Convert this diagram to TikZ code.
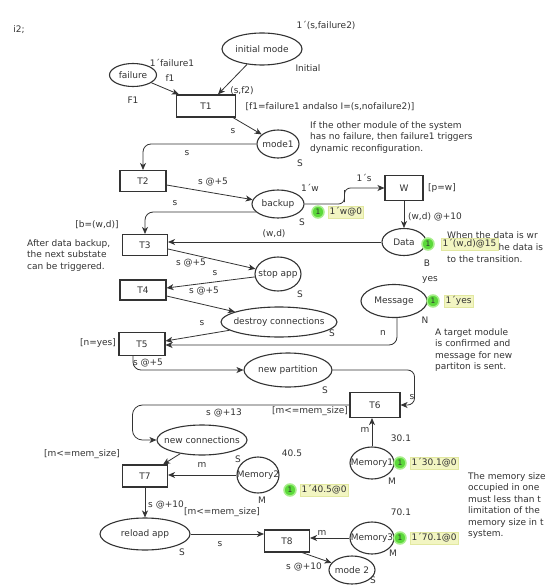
\documentclass[tikz,border=0pt]{standalone}
\usepackage{fontspec}
\setmainfont{DejaVu Sans}
\usetikzlibrary{shapes.geometric,arrows.meta,calc}
\definecolor{ink}{HTML}{333333}
\definecolor{tokgreen}{HTML}{5BD93A}
\definecolor{tokhalo}{HTML}{A8EE8C}
\definecolor{markfill}{HTML}{F2F5C2}
\definecolor{markline}{HTML}{E2E8A0}

\begin{document}
\begin{tikzpicture}[x=1pt,y=-1pt,
  every node/.style={font=\fontsize{9}{11}\selectfont, text=ink},
  place/.style={ellipse, draw=ink, line width=1.1pt, inner sep=0pt},
  trans/.style={rectangle, draw=ink, line width=1.1pt, inner sep=0pt},
  arc/.style={draw=ink, line width=0.8pt, -{Stealth[length=7pt,width=6pt,inset=2pt]}},
  lbl/.style={inner sep=0.5pt},
  note/.style={inner sep=0pt, anchor=north west, align=left, font=\fontsize{9}{11.5}\selectfont},
  token/.style={circle, fill=tokgreen, draw=tokhalo, line width=1.5pt, inner sep=0pt,
                minimum size=12pt, font=\fontsize{7.5}{8}\selectfont},
  marking/.style={fill=markfill, draw=markline, line width=0.4pt, inner sep=1.5pt, anchor=west},
]
\fill[white] (0,0) rectangle (549,586);
\useasboundingbox (0,0) rectangle (549,586);

% ---------- places ----------
\node[place, minimum width=80pt, minimum height=32pt, label=center:{initial mode}] (init) at (262,49) {};
\node[place, minimum width=47pt, minimum height=23pt, label=center:failure] (fail) at (133,75) {};
\node[place, minimum width=42pt, minimum height=28pt, label=center:mode1] (mode1) at (278,144) {};
\node[place, minimum width=52pt, minimum height=28pt, label=center:backup] (backup) at (278,204) {};
\node[place, minimum width=44pt, minimum height=27pt, label=center:Data] (data) at (404,242) {};
\node[place, minimum width=46pt, minimum height=34pt, label=center:{stop app}] (stop) at (278,274) {};
\node[place, minimum width=116pt, minimum height=30pt, label=center:{destroy connections}] (destroy) at (279,322) {};
\node[place, minimum width=66pt, minimum height=33pt, label=center:Message] (msg) at (394,301) {};
\node[place, minimum width=88pt, minimum height=34pt, label=center:{new partition}] (npart) at (288,370) {};
\node[place, minimum width=90pt, minimum height=30pt, label=center:{new connections}] (nconn) at (202,440) {};
\node[place, minimum width=44pt, minimum height=32pt, label=center:Memory1] (mem1) at (372,463) {};
\node[place, minimum width=42pt, minimum height=36pt, label=center:Memory2] (mem2) at (258,475) {};
\node[place, minimum width=90pt, minimum height=32pt, label=center:{reload app}] (reload) at (145,534) {};
\node[place, minimum width=44pt, minimum height=32pt, label=center:Memory3] (mem3) at (372,538) {};
\node[place, minimum width=46pt, minimum height=28pt, label=center:{mode 2}] (mode2) at (352,570) {};

% ---------- transitions ----------
\node[trans, minimum width=59pt, minimum height=22pt, line width=1.3pt] (T1) at (206,106) {T1};
\node[trans, minimum width=46pt, minimum height=21pt] (T2) at (143,181) {T2};
\node[trans, minimum width=45pt, minimum height=21pt] (T3) at (145,245) {T3};
\node[trans, minimum width=46pt, minimum height=20pt] (T4) at (143,290) {T4};
\node[trans, minimum width=46pt, minimum height=23pt] (T5) at (142,344) {T5};
\node[trans, minimum width=50pt, minimum height=25pt] (T6) at (375,405) {T6};
\node[trans, minimum width=45pt, minimum height=22pt] (T7) at (145,476) {T7};
\node[trans, minimum width=45pt, minimum height=22pt] (T8) at (287,541) {T8};
\node[trans, minimum width=38pt, minimum height=25pt] (W) at (404,188) {W};

% ---------- arcs ----------
\draw[arc] (fail) -- ([xshift=3pt]T1.north west);
\draw[arc] (init) -- ([xshift=12pt]T1.north);
\draw[arc] ([xshift=-3pt]T1.south east) -- (mode1);
\draw[arc, rounded corners=8pt] (mode1.west) -| (T2.north);
\draw[arc] ([yshift=-4pt]T2.east) -- (backup);
\draw[arc, rounded corners=8pt] (backup.200) -| (T3.north);
\draw[arc, rounded corners=6pt] (backup.east) -| ($(backup.east)!0.5!(W.west)$) |- (W.west);
\draw[arc] (W.south) -- (data.north);
\draw[arc] (data.west) -- (data.west -| T3.east);
\draw[arc] ([yshift=-4pt]T3.east) -- (stop);
\draw[arc] (stop) -- ([yshift=2pt]T4.east);
\draw[arc] ([yshift=-6pt]T4.east) -- (destroy);
\draw[arc] (destroy) -- ([yshift=3pt]T5.east);
\draw[arc, rounded corners=8pt] ([xshift=3pt]msg.south) |- ([yshift=-1pt]T5.east);
\draw[arc, rounded corners=8pt] ([xshift=-9pt]T5.south) |- (npart.west);
\draw[arc, rounded corners=7pt] (npart.east) -| ([xshift=14pt]T6.east) -- (T6.east);
\draw[arc, rounded corners=10pt] (T6.west) -- ++(-217,0) |- (nconn.west);
\draw[arc] (mem1) -- (mem1 |- T6.south);
\draw[arc] (nconn) -- ([xshift=-5pt]T7.north east);
\draw[arc] (mem2.west) -- (mem2.west -| T7.east);
\draw[arc] (T7.south) -- (reload.north);
\draw[arc] (reload.east) -- (reload.east -| T8.west);
\draw[arc] (mem3.west) -- (mem3.west -| T8.east);
\draw[arc] ([xshift=-8pt]T8.south east) -- (mode2);

% ---------- inscriptions ----------
\node[lbl] (hdr) at (19,30) {i2;};
\node[lbl] (l1) at (172,63) {1´failure1};
\node[lbl] (l2) at (170,78) {f1};
\node[lbl] (l3) at (133,100) {F1};
\node[lbl] (l4) at (326,25) {1´(s,failure2)};
\node[lbl] (l5) at (308,68) {Initial};
\node[lbl] (l6) at (242,91) {(s,f2)};
\node[lbl, anchor=west] (g1) at (245,107) {[f1=failure1 andalso I=(s,nofailure2)]};
\node[lbl] (l7) at (233,131) {s};
\node[lbl] (l8) at (300,163) {S};
\node[lbl] (l9) at (187,153) {s};
\node[lbl] (l10) at (213,182) {s @+5};
\node[lbl] (l11) at (175,203) {s};
\node[lbl] (l12) at (302,222) {S};
\node[lbl] (l13) at (310,188) {1´w};
\node[lbl] (l14) at (364,178) {1´s};
\node[lbl] (g2) at (442,188) {[p=w]};
\node[lbl] (l15) at (435,217) {(w,d) @+10};
\node[lbl] (l16) at (427,263) {B};
\node[lbl] (l17) at (274,234) {(w,d)};
\node[lbl] (g3) at (97,225) {[b=(w,d)]};
\node[lbl] (l18) at (191,263) {s @+5};
\node[lbl] (l19) at (215,273) {s};
\node[lbl] (l20) at (300,294) {S};
\node[lbl] (l21) at (204,291) {s @+5};
\node[lbl] (l22) at (202,323) {s};
\node[lbl] (l23) at (332,333) {S};
\node[lbl] (l24) at (430,280) {yes};
\node[lbl] (l25) at (425,320) {N};
\node[lbl] (l26) at (383,333) {n};
\node[lbl] (g4) at (98,343) {[n=yes]};
\node[lbl] (l27) at (148,363) {s @+5};
\node[lbl] (l28) at (325,390) {S};
\node[lbl] (l29) at (412,397) {s};
\node[lbl] (g5) at (310,411) {[m<=mem\_size]};
\node[lbl] (l30) at (224,413) {s @+13};
\node[lbl] (l31) at (238,459) {S};
\node[lbl] (g6) at (82,454) {[m<=mem\_size]};
\node[lbl] (l32) at (202,465) {m};
\node[lbl] (l33) at (292,453) {40.5};
\node[lbl] (l34) at (262,500) {M};
\node[lbl] (l35) at (365,430) {m};
\node[lbl] (l36) at (401,438) {30.1};
\node[lbl] (l37) at (392,481) {M};
\node[lbl] (l38) at (166,505) {s @+10};
\node[lbl] (g7) at (222,512) {[m<=mem\_size]};
\node[lbl] (l39) at (182,552) {S};
\node[lbl] (l40) at (220,544) {s};
\node[lbl] (l41) at (322,533) {m};
\node[lbl] (l42) at (401,512) {70.1};
\node[lbl] (l43) at (393,553) {M};
\node[lbl] (l44) at (304,567) {s @+10};
\node[lbl] (l45) at (373,580) {S};

% ---------- comments ----------
\node[note] (c1) at (310,121) {If the other module of the system\\has no failure, then failure1 triggers\\dynamic reconfiguration.};
\node[note] (c2) at (27,239) {After data backup,\\the next substate\\can be triggered.};
\node[note] (c3a) at (447,231) {When the data is wr};
\node[note] (c3b) at (495,243) {the data is};
\node[note] (c3c) at (447,255) {to the transition.};
\node[note] (c4) at (435,328) {A target module\\is confirmed and\\message for new\\partiton is sent.};
\node[note] (c5) at (468,472) {The memory size\\occupied in one\\must less than t\\limitation of the\\memory size in t\\system.};

% ---------- markings ----------
\node[token] (tk1) at (318,212) {1};
\node[marking] (mk1) at (328,212) {1´w@0};
\node[token] (tk2) at (428,244) {1};
\node[marking] (mk2) at (441,244) {1´(w,d)@15};
\node[token] (tk3) at (433,301) {1};
\node[marking] (mk3) at (444,301) {1´yes};
\node[token] (tk4) at (400,463) {1};
\node[marking] (mk4) at (410,463) {1´30.1@0};
\node[token] (tk5) at (290,490) {1};
\node[marking] (mk5) at (300,490) {1´40.5@0};
\node[token] (tk6) at (400,538) {1};
\node[marking] (mk6) at (410,538) {1´70.1@0};
\end{tikzpicture}
\end{document}
